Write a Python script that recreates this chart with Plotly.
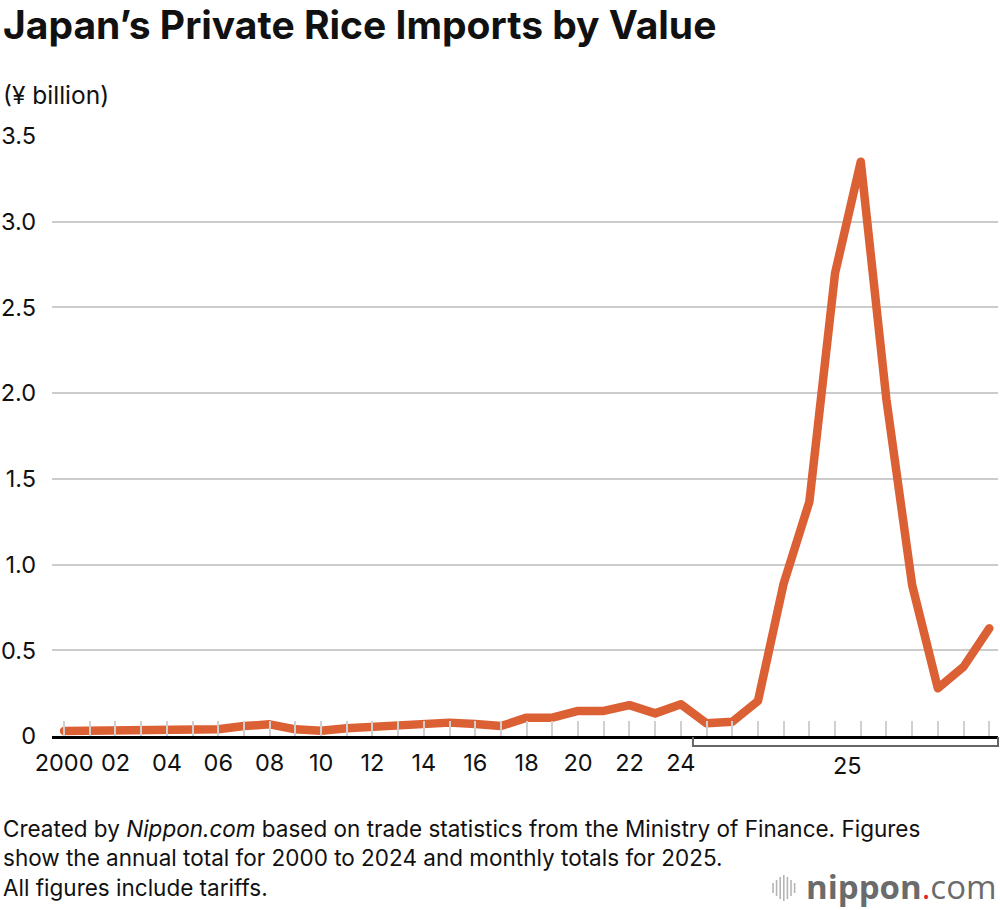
import plotly.graph_objects as go

# ---- data ----
annual_years = list(range(2000, 2025))
annual_values = [0.029, 0.030, 0.035, 0.039, 0.035, 0.035, 0.039, 0.058, 0.068, 0.039,
                 0.031, 0.045, 0.054, 0.070, 0.078, 0.078, 0.070, 0.058, 0.107, 0.107,
                 0.146, 0.146, 0.180, 0.132, 0.185]
months_2025 = ["Jan", "Feb", "Mar", "Apr", "May", "Jun", "Jul", "Aug", "Sep", "Oct", "Nov", "Dec"]
monthly_values = [0.074, 0.083, 0.204, 0.89, 1.367, 2.70, 3.35, 1.96, 0.88, 0.278, 0.404, 0.628]

year_tick_labels = ["2000", "02", "04", "06", "08", "10", "12", "14", "16", "18", "20", "22", "24"]
month_group_label = "25"
y_ticks = [0, 0.5, 1.0, 1.5, 2.0, 2.5, 3.0, 3.5]
y_tick_labels = ["0", "0.5", "1.0", "1.5", "2.0", "2.5", "3.0", "3.5"]

footer_lines = [
    "Created by <i>Nippon.com</i> based on trade statistics from the Ministry of Finance. Figures",
    "show the annual total for 2000 to 2024 and monthly totals for 2025.",
    "All figures include tariffs.",
]

values = annual_values + monthly_values
xs = list(range(len(values)))

# tick texts: label every other year, blank elsewhere
tick_text = []
for i in xs:
    if i < len(annual_years) and i % 2 == 0:
        tick_text.append(year_tick_labels[i // 2])
    else:
        tick_text.append("")

FONT = "Inter, Liberation Sans, Arial, sans-serif"
LINE_COLOR = "#DB6034"
TXT = "#111111"

W, H = 1000, 910
ML, MR, MT, MB = 52, 2, 136, 174
PW, PH = W - ML - MR, H - MT - MB
X_RANGE = [-0.47, 36.34]
Y_RANGE = [0, 3.5]


def px_to_paper_x(px):
    return (px - ML) / PW


def px_to_paper_y(py):
    return (H - MB - py) / PH


def data_to_paper_x(v):
    return (v - X_RANGE[0]) / (X_RANGE[1] - X_RANGE[0])


fig = go.Figure()
fig.add_trace(go.Scatter(
    x=xs, y=values, mode="lines",
    line=dict(color=LINE_COLOR, width=8.5),
    hoverinfo="skip", cliponaxis=False,
))

TICK_SIZE = 23.5
fig.update_layout(
    width=W, height=H,
    margin=dict(l=ML, r=MR, t=MT, b=MB, pad=0),
    paper_bgcolor="white", plot_bgcolor="white",
    showlegend=False,
    font=dict(family=FONT, color=TXT, size=TICK_SIZE),
    xaxis=dict(
        range=X_RANGE, tickmode="array", tickvals=xs, ticktext=tick_text,
        ticks="inside", ticklen=15, tickwidth=1.5, tickcolor="#d0d0d0",
        showline=True, linecolor="#000000", linewidth=2.5,
        showgrid=False, zeroline=False, fixedrange=True,
        tickfont=dict(family=FONT, size=TICK_SIZE, color=TXT),
        ticklabelstandoff=4,
    ),
    yaxis=dict(
        range=Y_RANGE, tickmode="array", tickvals=y_ticks, ticktext=y_tick_labels,
        showgrid=True, gridcolor="#cccccc", gridwidth=2,
        zeroline=False, showline=False, ticks="", fixedrange=True,
        tickfont=dict(family=FONT, size=TICK_SIZE, color=TXT),
        ticklabelstandoff=15,
    ),
)

shapes = []
# bracket under 2025 months
bx0 = data_to_paper_x(len(annual_years) - 0.53)
bx1 = data_to_paper_x(X_RANGE[1])
by0 = px_to_paper_y(737)
by1 = px_to_paper_y(746)
shapes.append(dict(
    type="path", xref="paper", yref="paper",
    path=f"M {bx0},{by0} L {bx0},{by1} L {bx1},{by1} L {bx1},{by0}",
    line=dict(color="#666666", width=2),
))

# logo icon bars
bar_heights = [10, 16, 22, 26, 22, 16, 10]
for k, h in enumerate(bar_heights):
    cx = 773 + k * 3.6
    shapes.append(dict(
        type="line", xref="paper", yref="paper",
        x0=px_to_paper_x(cx), x1=px_to_paper_x(cx),
        y0=px_to_paper_y(888 - h / 2), y1=px_to_paper_y(888 + h / 2),
        line=dict(color="#b5b5b5", width=1.6),
    ))
fig.update_layout(shapes=shapes)

annotations = [
    dict(text="<b>Japan’s Private Rice Imports by Value</b>",
         x=px_to_paper_x(1), y=px_to_paper_y(25), xanchor="left", yanchor="middle",
         font=dict(size=39, family=FONT, color=TXT)),
    dict(text="(¥ billion)",
         x=px_to_paper_x(1), y=px_to_paper_y(95), xanchor="left", yanchor="middle",
         font=dict(size=24.5, family=FONT, color=TXT)),
    dict(text=month_group_label,
         x=data_to_paper_x((len(annual_years) + len(values) - 1) / 2), y=px_to_paper_y(765),
         xanchor="center", yanchor="middle",
         font=dict(size=TICK_SIZE, family=FONT, color=TXT)),
    dict(text="<b>nippon</b><span style='color:#e8202a'>.</span>com",
         x=px_to_paper_x(999), y=px_to_paper_y(886), xanchor="right", yanchor="middle",
         font=dict(size=33, family="Open Sans, sans-serif", color="#6b6b6b")),
    dict(text="<br>".join(footer_lines),
         x=px_to_paper_x(1), y=px_to_paper_y(858), xanchor="left", yanchor="middle", align="left",
         font=dict(size=22.5, family=FONT, color=TXT)),
]
for a in annotations:
    a.update(xref="paper", yref="paper", showarrow=False)
fig.update_layout(annotations=annotations)

post = """
function fixJoins(){
  document.querySelectorAll('.scatterlayer path.js-line').forEach(function(p){
    p.style.strokeLinejoin='round'; p.style.strokeLinecap='round';
  });
}
fixJoins(); setTimeout(fixJoins, 50);
"""
fig.write_html("out.html", post_script=post, config={"displayModeBar": False})
